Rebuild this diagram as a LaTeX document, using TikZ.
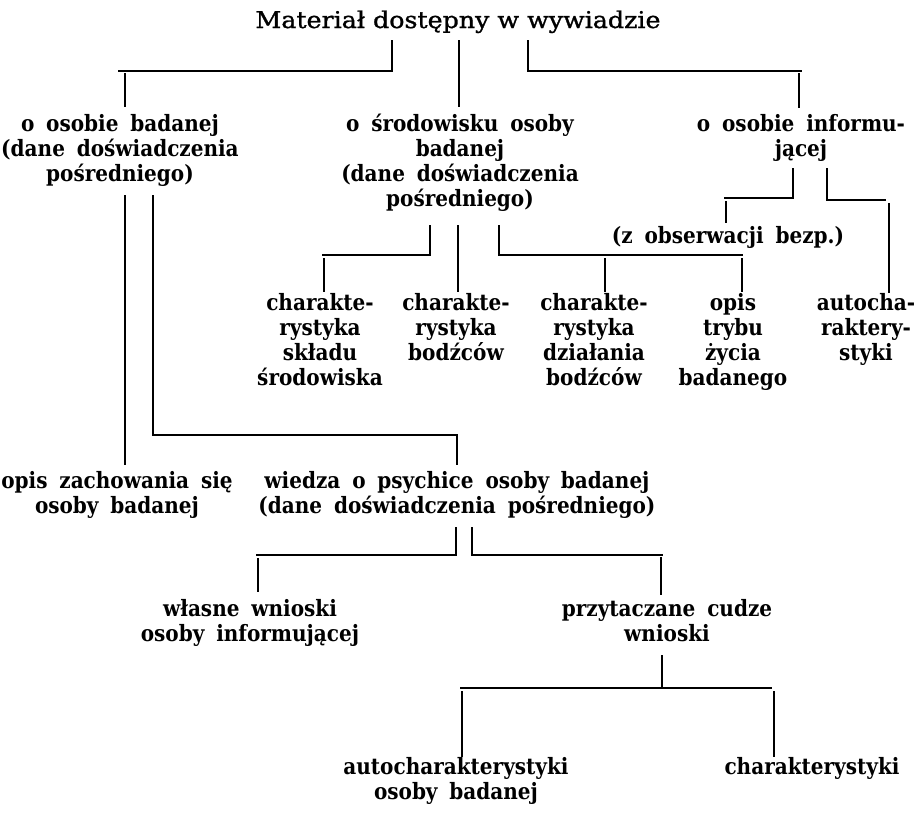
\documentclass[tikz,border=0pt]{standalone}
\usepackage{fontspec}
\newfontfamily\titlefont[FakeStretch=1.1,FakeBold=1.2]{DejaVu Serif}
\newfontfamily\bodyfont[FakeStretch=0.89,WordSpace=1.7]{DejaVu Serif Bold}
\newcommand{\tp}{\rule{0pt}{19pt}}
\tikzset{
  lbl/.style={anchor=north, inner sep=0pt, align=center,
    font=\bodyfont\fontsize{22.5pt}{25pt}\selectfont},
  ln/.style={line width=1.6pt, black}
}
\begin{document}
\begin{tikzpicture}[x=1pt,y=-1pt]
\fill[white] (0,0) rectangle (924,812);
\useasboundingbox (0,0) rectangle (924,812);

% nodes
\node[anchor=base, inner sep=0pt, font=\titlefont\fontsize{23pt}{27pt}\selectfont] (title) at (458,28) {Materiał dostępny w wywiadzie};
\node[lbl] (A) at (120,112) {\tp o osobie badanej\\(dane doświadczenia\\pośredniego)};
\node[lbl] (B) at (460,112) {\tp o środowisku osoby\\badanej\\(dane doświadczenia\\pośredniego)};
\node[lbl] (C) at (801,112) {\tp o osobie informu-\\jącej};
\node[lbl] (D) at (728,224) {\tp(z obserwacji bezp.)};
\node[lbl] (E1) at (320,291) {\tp charakte-\\rystyka\\składu\\środowiska};
\node[lbl] (E2) at (456,291) {\tp charakte-\\rystyka\\bodźców};
\node[lbl] (E3) at (594,291) {\tp charakte-\\rystyka\\działania\\bodźców};
\node[lbl] (E4) at (733,291) {\tp opis\\trybu\\życia\\badanego};
\node[lbl] (E5) at (866,291) {\tp autocha-\\raktery-\\styki};
\node[lbl] (F) at (117,469) {\tp opis zachowania się\\osoby badanej};
\node[lbl] (G) at (457,469) {\tp wiedza o psychice osoby badanej\\(dane doświadczenia pośredniego)};
\node[lbl] (H) at (250,597) {\tp własne wnioski\\osoby informującej};
\node[lbl] (I) at (667,597) {\tp przytaczane cudze\\wnioski};
\node[lbl] (J) at (456,755) {\tp autocharakterystyki\\osoby badanej};
\node[lbl] (K) at (812,755) {\tp charakterystyki};

% junction coordinates
\coordinate (t1) at (392,40); \coordinate (t1h) at (392,71); \coordinate (t1e) at (118,71);
\coordinate (a0) at (125,73); \coordinate (a1) at (125,107);
\coordinate (t2) at (459,40); \coordinate (b1) at (459,107);
\coordinate (t3) at (528,40); \coordinate (t3h) at (528,71); \coordinate (t3e) at (802,71);
\coordinate (c0) at (799,73); \coordinate (c1) at (799,108);

\coordinate (af0) at (125,195); \coordinate (af1) at (125,465);
\coordinate (ag0) at (153,195); \coordinate (ag1) at (153,435); \coordinate (ag2) at (457,435); \coordinate (ag3) at (457,465);

\coordinate (bl0) at (430,225); \coordinate (bl1) at (430,255); \coordinate (bl2) at (322,255);
\coordinate (e10) at (324,258); \coordinate (e11) at (324,292);
\coordinate (bm0) at (458,225); \coordinate (bm1) at (458,292);
\coordinate (br0) at (499,225); \coordinate (br1) at (499,255); \coordinate (br2) at (743,255);
\coordinate (e30) at (605,258); \coordinate (e31) at (605,292);
\coordinate (e40) at (742,258); \coordinate (e41) at (742,292);

\coordinate (cl0) at (793,168); \coordinate (cl1) at (793,198); \coordinate (cl2) at (724,198);
\coordinate (d0) at (726,201); \coordinate (d1) at (726,223);
\coordinate (cr0) at (827,168); \coordinate (cr1) at (827,200); \coordinate (cr2) at (886,200);
\coordinate (e50) at (889,203); \coordinate (e51) at (889,293);

\coordinate (gl0) at (456,527); \coordinate (gl1) at (456,555); \coordinate (gl2) at (256,555);
\coordinate (h0) at (258,558); \coordinate (h1) at (258,592);
\coordinate (gr0) at (472,527); \coordinate (gr1) at (472,555); \coordinate (gr2) at (663,555);
\coordinate (i0) at (661,557); \coordinate (i1) at (661,595);

\coordinate (ib0) at (662,655); \coordinate (ib1) at (662,687);
\coordinate (hb0) at (460,688); \coordinate (hb1) at (772,688);
\coordinate (j0) at (462,691); \coordinate (j1) at (462,757);
\coordinate (k0) at (774,691); \coordinate (k1) at (774,757);

% connectors
\draw[ln] (t1) -- (t1h) -- (t1e);
\draw[ln] (a0) -- (a1);
\draw[ln] (t2) -- (b1);
\draw[ln] (t3) -- (t3h) -- (t3e);
\draw[ln] (c0) -- (c1);

\draw[ln] (af0) -- (af1);
\draw[ln] (ag0) -- (ag1) -- (ag2) -- (ag3);

\draw[ln] (bl0) -- (bl1) -- (bl2);
\draw[ln] (e10) -- (e11);
\draw[ln] (bm0) -- (bm1);
\draw[ln] (br0) -- (br1) -- (br2);
\draw[ln] (e30) -- (e31);
\draw[ln] (e40) -- (e41);

\draw[ln] (cl0) -- (cl1) -- (cl2);
\draw[ln] (d0) -- (d1);
\draw[ln] (cr0) -- (cr1) -- (cr2);
\draw[ln] (e50) -- (e51);

\draw[ln] (gl0) -- (gl1) -- (gl2);
\draw[ln] (h0) -- (h1);
\draw[ln] (gr0) -- (gr1) -- (gr2);
\draw[ln] (i0) -- (i1);

\draw[ln] (ib0) -- (ib1);
\draw[ln] (hb0) -- (hb1);
\draw[ln] (j0) -- (j1);
\draw[ln] (k0) -- (k1);
\end{tikzpicture}
\end{document}
